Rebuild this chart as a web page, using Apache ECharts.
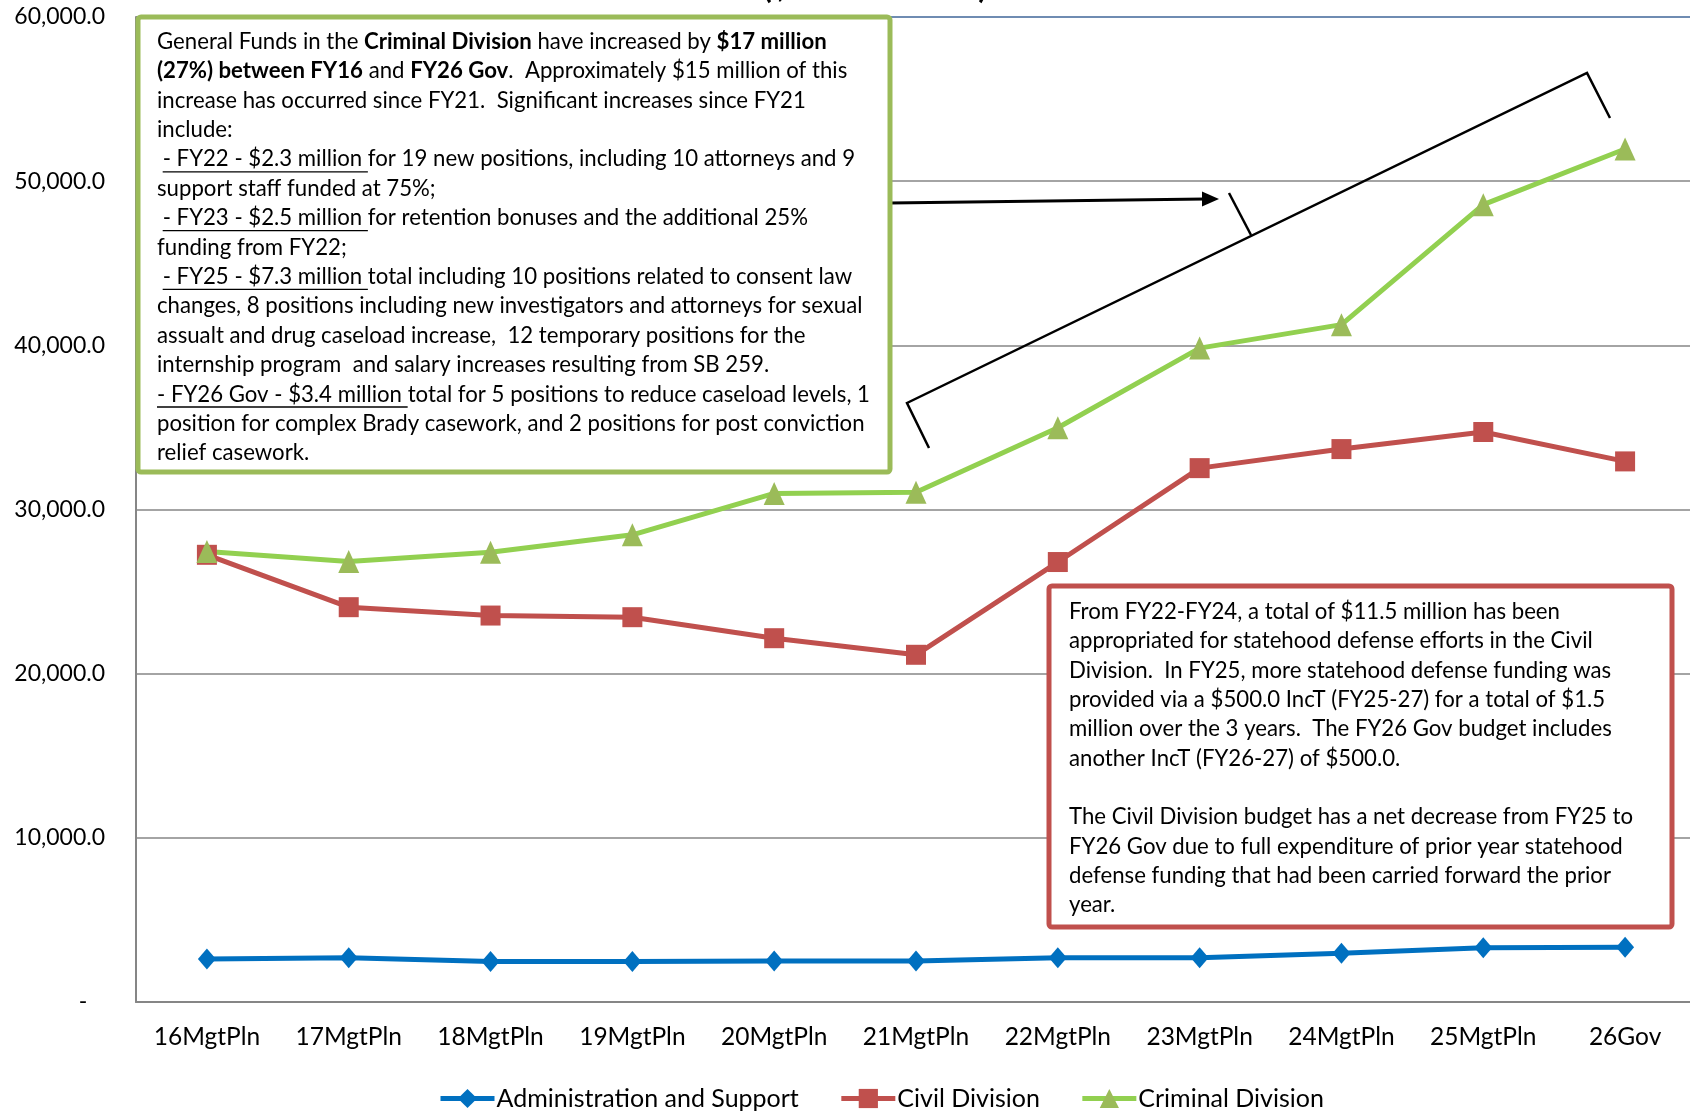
<!DOCTYPE html>
<html>
<head>
<meta charset="utf-8">
<script src="https://cdn.jsdelivr.net/npm/echarts@6/dist/echarts.min.js"></script>
<style>
  html, body { margin: 0; padding: 0; background: #fff; }
  #chart { width: 1690px; height: 1112px; }
</style>
</head>
<body>
<div id="chart"></div>
<script>
var categories = ['16MgtPln', '17MgtPln', '18MgtPln', '19MgtPln', '20MgtPln', '21MgtPln',
                  '22MgtPln', '23MgtPln', '24MgtPln', '25MgtPln', '26Gov'];
var adminSupport = [2620, 2700, 2460, 2460, 2500, 2500, 2700, 2700, 2970, 3310, 3330];
var civilDivision = [27240, 24050, 23540, 23440, 22160, 21150, 26800, 32520, 33680, 34720, 32930];
var criminalDivision = [27440, 26830, 27400, 28460, 30980, 31050, 34980, 39830, 41260, 48570, 51960];
var yMin = 0, yMax = 60000, yStep = 10000;

// note box lines: [text, style] pieces, style b = bold, u = underlined
var criminalNote = [
  [['General Funds in the ', ''], ['Criminal Division', 'b'], [' have increased by ', ''], ['$17 million', 'b']],
  [['(27%) between FY16', 'b'], [' and ', ''], ['FY26 Gov', 'b'], ['.  Approximately $15 million of this', '']],
  [['increase has occurred since FY21.  Significant increases since FY21', '']],
  [['include:', '']],
  [[' ', ''], ['- FY22 - $2.3 million ', 'u'], ['for 19 new positions, including 10 attorneys and 9', '']],
  [['support staff funded at 75%;', '']],
  [[' ', ''], ['- FY23 - $2.5 million ', 'u'], ['for retention bonuses and the additional 25%', '']],
  [['funding from FY22;', '']],
  [[' ', ''], ['- FY25 - $7.3 million ', 'u'], ['total including 10 positions related to consent law', '']],
  [['changes, 8 positions including new investigators and attorneys for sexual', '']],
  [['assualt and drug caseload increase,  12 temporary positions for the', '']],
  [['internship program  and salary increases resulting from SB 259.', '']],
  [['- FY26 Gov - $3.4 million ', 'u'], ['total for 5 positions to reduce caseload levels, 1', '']],
  [['position for complex Brady casework, and 2 positions for post conviction', '']],
  [['relief casework.', '']]
];
var civilNote = [
  'From FY22-FY24, a total of $11.5 million has been',
  'appropriated for statehood defense efforts in the Civil',
  'Division.  In FY25, more statehood defense funding was',
  'provided via a $500.0 IncT (FY25-27) for a total of $1.5',
  'million over the 3 years.  The FY26 Gov budget includes',
  'another IncT (FY26-27) of $500.0.',
  '',
  'The Civil Division budget has a net decrease from FY25 to',
  'FY26 Gov due to full expenditure of prior year statehood',
  'defense funding that had been carried forward the prior',
  'year.'
];

var FONT = 'Lato';
var noteSize = 22.2;
var noteLine = 29.4;

var measureCtx = document.createElement('canvas').getContext('2d');
function textWidth(str, bold) {
  measureCtx.font = (bold ? 'bold ' : '') + noteSize + 'px ' + FONT;
  return measureCtx.measureText(str).width;
}

function fmt(v) {
  if (v === 0) return '-   ';
  return v.toLocaleString('en-US', { minimumFractionDigits: 1, maximumFractionDigits: 1 });
}

// build the criminal note as rich text + underline segments
var noteX = 157, noteTop = 41.7 - noteLine / 2;
var richLines = [];
var underlines = [];
criminalNote.forEach(function (line, i) {
  var x = noteX;
  var s = '';
  line.forEach(function (p) {
    var w = textWidth(p[0], p[1] === 'b');
    if (p[1] === 'u') {
      var uy = noteTop + noteLine * i + noteLine / 2 + 12.5;
      underlines.push({
        type: 'line', z: 102,
        shape: { x1: x, y1: uy, x2: x + w, y2: uy },
        style: { stroke: '#000', lineWidth: 1.3 }
      });
    }
    x += w;
    s += p[1] === 'b' ? '{b|' + p[0] + '}' : '{n|' + p[0] + '}';
  });
  richLines.push(s);
});

var chart = echarts.init(document.getElementById('chart'));

var option = {
  animation: false,
  backgroundColor: '#fff',
  textStyle: { fontFamily: FONT },
  grid: { left: 136, width: 1560, top: 17, height: 985, outerBoundsMode: 'none', containLabel: false },
  legend: {
    left: 433, top: 1081,
    itemWidth: 54, itemHeight: 24, itemGap: 40,
    lineStyle: { width: 5 },
    textStyle: { fontSize: 25, color: '#000', fontFamily: FONT, padding: [0, 0, 0, -3] },
    data: ['Administration and Support', 'Civil Division', 'Criminal Division']
  },
  xAxis: {
    type: 'category',
    data: categories,
    boundaryGap: true,
    axisLine: { lineStyle: { color: '#868686', width: 2 } },
    axisTick: { show: false },
    axisLabel: { fontSize: 24.5, color: '#000', margin: 23, fontFamily: FONT, interval: 0 }
  },
  yAxis: {
    type: 'value',
    min: yMin, max: yMax, interval: yStep,
    axisLine: { show: true, lineStyle: { color: '#868686', width: 2 } },
    axisTick: { show: false },
    axisLabel: { fontSize: 23, color: '#000', margin: 31, fontFamily: FONT, formatter: fmt },
    splitLine: {
      lineStyle: {
        color: ['#868686', '#868686', '#868686', '#868686', '#868686', '#868686', '#3f6698'],
        width: 1.6
      }
    }
  },
  series: [
    {
      name: 'Administration and Support',
      type: 'line',
      data: adminSupport,
      symbol: 'diamond', symbolSize: [18, 21],
      lineStyle: { color: '#0070C0', width: 5 },
      itemStyle: { color: '#0070C0' }
    },
    {
      name: 'Civil Division',
      type: 'line',
      data: civilDivision,
      symbol: 'rect', symbolSize: 20,
      lineStyle: { color: '#C0504D', width: 5 },
      itemStyle: { color: '#C0504D' }
    },
    {
      name: 'Criminal Division',
      type: 'line',
      data: criminalDivision,
      symbol: 'triangle', symbolSize: [21, 23],
      lineStyle: { color: '#92D050', width: 5 },
      itemStyle: { color: '#9BBB59' }
    }
  ],
  graphic: [
    {
      type: 'text', z: 100, x: 875, y: -12,
      style: { text: '($ in thousands)', font: 'bold 32px ' + FONT, fill: '#000', align: 'center', verticalAlign: 'middle' }
    },
    {
      type: 'polyline', z: 90,
      shape: { points: [[929, 448], [907, 403], [1587, 73], [1610, 118]] },
      style: { stroke: '#000', lineWidth: 2.5, fill: null }
    },
    {
      type: 'line', z: 90,
      shape: { x1: 1229, y1: 193, x2: 1251, y2: 235 },
      style: { stroke: '#000', lineWidth: 2.5 }
    },
    {
      type: 'line', z: 90,
      shape: { x1: 890, y1: 203, x2: 1205, y2: 199 },
      style: { stroke: '#000', lineWidth: 3.2 }
    },
    {
      type: 'polygon', z: 90,
      shape: { points: [[1219, 199], [1202, 191.5], [1202, 206.5]] },
      style: { fill: '#000' }
    },
    {
      type: 'rect', z: 100,
      shape: { x: 138, y: 17, width: 752, height: 455, r: 3 },
      style: { fill: '#fff', stroke: '#9BBB59', lineWidth: 5 }
    },
    {
      type: 'text', z: 101, x: noteX, y: noteTop,
      style: {
        text: richLines.join('\n'),
        fill: '#000',
        font: noteSize + 'px ' + FONT,
        lineHeight: noteLine,
        rich: {
          n: { fontSize: noteSize, fontFamily: FONT, lineHeight: noteLine, fill: '#000' },
          b: { fontSize: noteSize, fontFamily: FONT, fontWeight: 'bold', lineHeight: noteLine, fill: '#000' }
        }
      }
    },
    {
      type: 'rect', z: 100,
      shape: { x: 1049, y: 586, width: 623, height: 341, r: 3 },
      style: { fill: '#fff', stroke: '#C0504D', lineWidth: 5 }
    },
    {
      type: 'text', z: 101, x: 1069, y: 612 - 29.3 / 2,
      style: {
        text: civilNote.join('\n'),
        fill: '#000',
        font: noteSize + 'px ' + FONT,
        lineHeight: 29.3
      }
    }
  ].concat(underlines)
};

chart.setOption(option);
</script>
</body>
</html>
